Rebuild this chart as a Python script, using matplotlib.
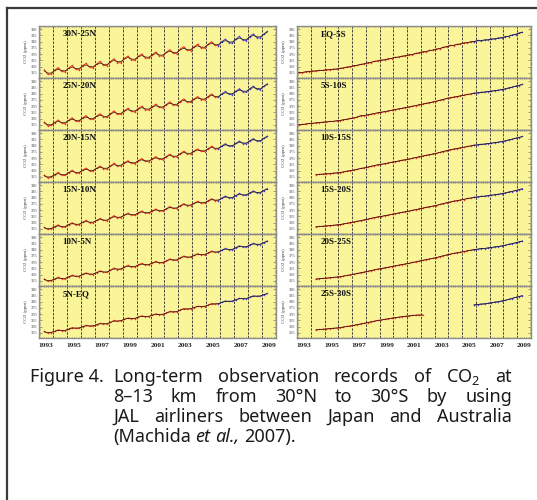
import numpy as np
import matplotlib
matplotlib.use("Agg")
import matplotlib.pyplot as plt
from matplotlib.lines import Line2D
from matplotlib.ticker import MultipleLocator

plt.rcParams['mathtext.fontset'] = 'custom'
plt.rcParams['mathtext.rm'] = 'Noto Sans'
plt.rcParams['mathtext.it'] = 'Noto Sans:italic'

# ---------------------------------------------------------------- data
# CO2 (ppm), sampled every quarter year
north_labels = ["30N-25N", "25N-20N", "20N-15N", "15N-10N", "10N-5N", "5N-EQ"]
south_labels = ["EQ-5S", "5S-10S", "10S-15S", "15S-20S", "20S-25S", "25S-30S"]

step = 0.25
north_start = 1993.375

co2_30n_25n = [357.6, 354.0, 354.3,
    357.2, 359.3, 356.2, 355.9, 358.9, 361.0, 358.0, 357.5,
    360.9, 362.6, 359.6, 359.0, 362.1, 364.2, 361.2, 360.8,
    364.0, 366.4, 363.3, 363.2, 366.6, 368.5, 365.6, 365.0,
    368.3, 370.2, 367.0, 366.8, 369.6, 371.8, 368.7, 368.5,
    371.4, 373.6, 370.9, 370.4, 373.9, 376.0, 373.0, 372.8,
    375.9, 377.9, 375.0, 374.8, 377.8, 380.0, 377.0, 376.9,
    380.1, 382.0, 379.2, 378.9, 382.0, 384.2, 381.2, 380.9,
    384.1, 386.2, 383.2, 383.0, 386.0, 388.2]
co2_25n_20n = [357.4, 354.4, 354.6,
    356.9, 359.0, 356.5, 356.0, 358.7, 360.8, 358.2, 357.8,
    360.6, 362.5, 359.8, 359.4, 362.0, 364.0, 361.5, 361.0,
    363.8, 366.3, 363.6, 363.5, 366.4, 368.3, 365.9, 365.3,
    368.1, 370.0, 367.2, 367.0, 369.5, 371.6, 369.0, 368.6,
    371.3, 373.4, 371.1, 370.6, 373.7, 375.8, 373.3, 373.0,
    375.7, 377.7, 375.3, 375.0, 377.6, 379.8, 377.3, 377.1,
    379.9, 381.8, 379.5, 379.1, 381.9, 384.0, 381.5, 381.2,
    384.0, 386.0, 383.5, 383.2, 385.9, 387.9]
co2_20n_15n = [356.5, 354.2, 355.0,
    356.8, 358.7, 356.3, 356.2, 358.5, 360.4, 358.3, 358.0,
    360.4, 362.1, 359.9, 359.6, 361.9, 363.7, 361.6, 361.3,
    363.7, 366.0, 363.7, 363.8, 366.3, 368.0, 366.0, 365.6,
    368.0, 369.7, 367.4, 367.3, 369.4, 371.3, 369.1, 368.9,
    371.2, 373.2, 371.2, 370.9, 373.6, 375.5, 373.5, 373.3,
    375.6, 377.4, 375.5, 375.3, 377.5, 379.5, 377.5, 377.4,
    379.8, 381.6, 379.6, 379.4, 381.8, 383.7, 381.7, 381.5,
    383.9, 385.7, 383.7, 383.5, 385.8, 387.6]
co2_15n_10n = [356.3, 354.6, 355.2,
    356.7, 358.3, 356.6, 356.5, 358.5, 360.0, 358.5, 358.3,
    360.3, 361.8, 360.1, 359.9, 361.8, 363.4, 361.8, 361.6,
    363.6, 365.7, 363.9, 364.1, 366.2, 367.7, 366.1, 365.9,
    367.9, 369.4, 367.6, 367.6, 369.4, 371.0, 369.3, 369.2,
    371.1, 372.9, 371.4, 371.2, 373.5, 375.2, 373.7, 373.6,
    375.5, 377.1, 375.6, 375.6, 377.4, 379.2, 377.7, 377.7,
    379.7, 381.3, 379.8, 379.7, 381.7, 383.4, 381.9, 381.8,
    383.8, 385.4, 383.9, 383.8, 385.7, 387.3]
co2_10n_5n = [356.6, 354.8, 355.3,
    356.5, 358.0, 356.8, 356.6, 358.3, 359.7, 358.6, 358.5,
    360.2, 361.5, 360.3, 360.1, 361.7, 363.1, 362.0, 361.8,
    363.5, 365.4, 364.1, 364.3, 366.1, 367.4, 366.3, 366.1,
    367.8, 369.1, 367.8, 367.8, 369.3, 370.7, 369.5, 369.4,
    371.0, 372.6, 371.6, 371.4, 373.4, 374.9, 373.9, 373.8,
    375.4, 376.8, 375.8, 375.8, 377.3, 378.9, 377.9, 377.9,
    379.6, 381.0, 380.0, 379.9, 381.6, 383.1, 382.1, 382.0,
    383.7, 385.1, 384.1, 384.0, 385.6, 387.0]
co2_5n_eq = [356.2, 355.0, 355.3,
    356.3, 357.5, 356.9, 356.8, 358.1, 359.3, 358.8, 358.7,
    360.0, 361.1, 360.5, 360.4, 361.6, 362.7, 362.2, 362.1,
    363.4, 365.0, 364.3, 364.6, 366.0, 367.0, 366.5, 366.4,
    367.7, 368.7, 368.0, 368.1, 369.2, 370.3, 369.7, 369.7,
    370.9, 372.2, 371.8, 371.7, 373.3, 374.5, 374.1, 374.1,
    375.3, 376.4, 376.0, 376.1, 377.2, 378.5, 378.1, 378.2,
    379.5, 380.6, 380.2, 380.2, 381.5, 382.7, 382.3, 382.3,
    383.6, 384.7, 384.3, 384.3, 385.5, 386.6]

eq_start = 1993.125
co2_eq_5s = [355.5, 355.2, 356.0, 356.1,
    356.6, 356.5, 357.1, 357.0, 357.6, 357.5, 358.1, 358.0,
    358.8, 358.9, 359.8, 359.9, 360.9, 361.0, 361.9, 362.1,
    363.2, 363.3, 364.4, 364.5, 365.4, 365.3, 366.4, 366.5,
    367.6, 367.5, 368.5, 368.6, 369.6, 369.6, 370.7, 370.9,
    372.0, 371.9, 373.0, 373.1, 374.2, 374.3, 375.6, 375.8,
    377.0, 376.9, 377.9, 378.0, 379.1, 379.0, 380.0, 380.0,
    381.0, 380.6, 381.5, 381.3, 382.3, 382.0, 383.0, 382.9,
    384.1, 384.1, 385.4, 385.6, 386.9, 387.6]
co2_5s_10s = [355.1, 355.4, 355.7, 356.2,
    356.2, 356.8, 356.8, 357.3, 357.3, 357.8, 357.8, 358.4,
    358.5, 359.2, 359.5, 360.2, 360.5, 361.3, 362.5, 362.5,
    363.0, 363.6, 364.1, 364.8, 365.1, 365.7, 366.1, 366.8,
    367.2, 367.9, 368.2, 368.9, 369.3, 370.0, 370.4, 371.2,
    371.6, 372.3, 372.7, 373.4, 373.9, 374.7, 375.3, 376.2,
    376.6, 377.3, 377.6, 378.3, 378.7, 379.4, 379.7, 380.4,
    380.6, 381.1, 381.2, 381.7, 381.9, 382.5, 382.7, 383.3,
    383.7, 384.6, 385.1, 386.0, 386.5, 387.5]

south_start = 1994.375
co2_10s_15s = [356.8, 357.1, 357.3,
    357.5, 357.6, 358.0, 358.3, 358.5, 359.0, 359.7, 360.0,
    360.5, 361.1, 361.8, 362.2, 362.8, 363.5, 364.1, 364.8,
    365.0, 365.7, 366.1, 366.8, 367.2, 367.7, 368.4, 368.7,
    369.2, 370.0, 370.4, 371.2, 371.6, 372.3, 372.7, 373.4,
    373.8, 374.6, 375.3, 376.0, 376.6, 377.3, 377.6, 378.3,
    378.6, 379.4, 379.7, 380.4, 380.6, 381.1, 381.2, 381.7,
    381.9, 382.5, 382.7, 383.3, 383.7, 384.6, 385.1, 385.9,
    386.5, 387.4]
co2_15s_20s = [356.6, 357.0, 357.2,
    357.3, 357.7, 357.9, 358.3, 358.4, 359.1, 359.5, 360.1,
    360.4, 361.2, 361.6, 362.3, 362.7, 363.5, 364.0, 364.7,
    364.9, 365.7, 366.0, 366.7, 367.1, 367.8, 368.2, 368.8,
    369.1, 370.0, 370.3, 371.1, 371.5, 372.3, 372.6, 373.3,
    373.7, 374.6, 375.2, 376.0, 376.4, 377.3, 377.5, 378.2,
    378.5, 379.4, 379.6, 380.3, 380.5, 381.1, 381.1, 381.6,
    381.8, 382.5, 382.6, 383.2, 383.6, 384.5, 384.9, 385.7,
    386.3, 387.2]
co2_20s_25s = [356.4, 356.9, 357.0,
    357.2, 357.6, 357.8, 358.2, 358.3, 358.9, 359.4, 359.9,
    360.3, 361.0, 361.5, 362.1, 362.6, 363.3, 363.9, 364.5,
    364.8, 365.5, 365.9, 366.5, 367.0, 367.6, 368.1, 368.6,
    369.0, 369.8, 370.2, 370.9, 371.4, 372.1, 372.5, 373.1,
    373.6, 374.4, 375.1, 375.8, 376.3, 377.1, 377.4, 378.0,
    378.4, 379.2, 379.5, 380.1, 380.3, 380.9, 380.9, 381.4,
    381.6, 382.3, 382.4, 383.0, 383.4, 384.3, 384.7, 385.5,
    386.1, 387.0]
# 25S-30S has a gap between the two observation periods
co2_25s_30s_early = [357.4, 357.8, 358.0,
    358.1, 358.5, 358.7, 359.0, 359.2, 359.8, 360.2, 360.6,
    361.0, 361.7, 362.2, 362.7, 363.2, 363.9, 364.4, 365.0,
    365.3, 365.9, 366.3, 366.8, 367.1, 367.6, 368.0, 368.3,
    368.5, 369.0, 369.2, 369.4, 369.3]
late_start = 2005.875
co2_25s_30s_late = [377.5,
    377.6, 378.2, 378.1, 378.7, 379.0, 379.7, 379.8, 380.6,
    381.0, 381.9, 382.5, 383.4, 384.0, 384.9]

blue_from = 2005.875          # start of the newer measurement system
year_labels = [1993, 1995, 1997, 1999, 2001, 2003, 2005, 2007, 2009]
y_ticks = [355, 360, 365, 370, 375, 380, 385, 390]

north_series = [co2_30n_25n, co2_25n_20n, co2_20n_15n, co2_15n_10n, co2_10n_5n, co2_5n_eq]
south_series = [(eq_start, co2_eq_5s), (eq_start, co2_5s_10s), (south_start, co2_10s_15s),
                (south_start, co2_15s_20s), (south_start, co2_20s_25s), None]

# ---------------------------------------------------------------- style
RED = "#f0321e"
BLUE = "#5040c8"
YELLOW = "#fbf59a"
W, H = 537, 500

fig = plt.figure(figsize=(W / 100, H / 100), dpi=100)


def segment(ax, t, v):
    t = np.asarray(t)
    v = np.asarray(v, dtype=float)
    fit = np.convolve(np.pad(v, 1, mode="edge"), [0.25, 0.5, 0.25], mode="valid")
    red = t <= blue_from
    blue = t >= blue_from
    if red.any():
        ax.plot(t[red], v[red], color=RED, lw=0.7, marker="o", ms=1.1,
                mew=0, zorder=3)
    if blue.any():
        ax.plot(t[blue], v[blue], color=BLUE, lw=0.7, marker="o", ms=1.1,
                mew=0, zorder=3)
    ax.plot(t, fit, color="#111111", lw=0.45, zorder=4)


def style_axes(ax, label, bottom):
    ax.set_facecolor(YELLOW)
    ax.set_xlim(1993, 2010)
    ax.set_ylim(351, 392.5)
    ax.set_xticks(np.arange(1994, 2010))
    ax.xaxis.set_minor_locator(MultipleLocator(1 / 6))
    ax.set_xticklabels([])
    for yr in range(1994, 2010):
        ax.axvline(yr, color="#2a2a2a", lw=0.6, ls=(0, (3, 1.6)), zorder=1)
    ax.set_yticks(y_ticks)
    ax.yaxis.set_minor_locator(MultipleLocator(1))
    ax.set_yticklabels([str(v) for v in y_ticks], fontsize=3.2,
                       family="Liberation Serif", color="#444444")
    ax.tick_params(which="both", direction="in", top=True, right=True,
                   color="#555555", width=0.4, pad=1)
    ax.tick_params(which="major", length=2)
    ax.tick_params(which="minor", length=1)
    for s in ax.spines.values():
        s.set_color("#8c8c8c")
        s.set_linewidth(1.0)
    ax.set_ylabel("CO2 (ppm)", fontsize=3.6, family="Liberation Serif",
                  color="#444444", labelpad=2.5)
    ax.text(0.1, 0.92, label, transform=ax.transAxes, ha="left", va="top",
            fontsize=6.5, fontweight="bold", family="Liberation Serif",
            color="#111111", zorder=6)
    if bottom:
        for yr in year_labels:
            ax.text(yr + 0.5, -0.1, str(yr), transform=ax.get_xaxis_transform(),
                    ha="center", va="top", fontsize=5.3, fontweight="bold",
                    family="Liberation Serif", color="#222222")


top_px, panel_px = 26, 52
col_left = [(39, 276), (297, 531)]
for col in range(2):
    x0, x1 = col_left[col]
    for row in range(6):
        b = 1 - (top_px + panel_px * (row + 1)) / H
        ax = fig.add_axes([x0 / W, b, (x1 - x0) / W, panel_px / H])
        if col == 0:
            vals = north_series[row]
            t = north_start + step * np.arange(len(vals))
            segment(ax, t, vals)
            style_axes(ax, north_labels[row], row == 5)
        else:
            item = south_series[row]
            if item is None:
                t1 = south_start + step * np.arange(len(co2_25s_30s_early))
                segment(ax, t1, co2_25s_30s_early)
                t2 = late_start + step * np.arange(len(co2_25s_30s_late))
                segment(ax, t2, co2_25s_30s_late)
            else:
                start, vals = item
                t = start + step * np.arange(len(vals))
                segment(ax, t, vals)
            style_axes(ax, south_labels[row], row == 5)

# box frame around the figure
fig.add_artist(Line2D([7 / W, 1], [1 - 8 / H, 1 - 8 / H], color="#3a3a3a",
                      lw=1.6, transform=fig.transFigure))
fig.add_artist(Line2D([7 / W, 7 / W], [1 - 8 / H, 0], color="#3a3a3a",
                      lw=1.6, transform=fig.transFigure))

# ---------------------------------------------------------------- caption
renderer = fig.canvas.get_renderer()
cap_kw = dict(fontsize=13, family="Noto Sans", color="#1a1a1a", va="baseline",
              ha="left")


def width_of(txt):
    return txt.get_window_extent(renderer=renderer).width


def put_words(words, y_px, x0, x1=None, styles=None):
    objs = []
    for i, w in enumerate(words):
        st = styles[i] if styles else "normal"
        objs.append(fig.text(0, 0, w, style=st, **cap_kw))
    widths = [width_of(o) for o in objs]
    if x1 is None:
        probe = fig.text(0, 0, "a a", **cap_kw)
        probe2 = fig.text(0, 0, "aa", **cap_kw)
        gaps = [width_of(probe) - width_of(probe2)] * len(words)
        probe.remove()
        probe2.remove()
    else:
        g = (x1 - x0 - sum(widths)) / (len(words) - 1)
        gaps = [g] * len(words)
    x = x0
    for o, w, g in zip(objs, widths, gaps):
        o.set_position((x / W, 1 - y_px / H))
        x += w + g


fig.text(30 / W, 1 - 382 / H, "Figure 4.", **cap_kw)
put_words("Long-term observation records of CO$_2$ at".split(" "), 382, 113, 512)
put_words("8–13 km from 30°N to 30°S by using".split(" "), 402, 113, 512)
put_words("JAL airliners between Japan and Australia".split(" "), 422, 113, 512)
put_words(["(Machida", "et", "al.,", "2007)."], 442, 113,
          styles=["normal", "italic", "italic", "normal"])

fig.savefig("out.png", dpi=100)
